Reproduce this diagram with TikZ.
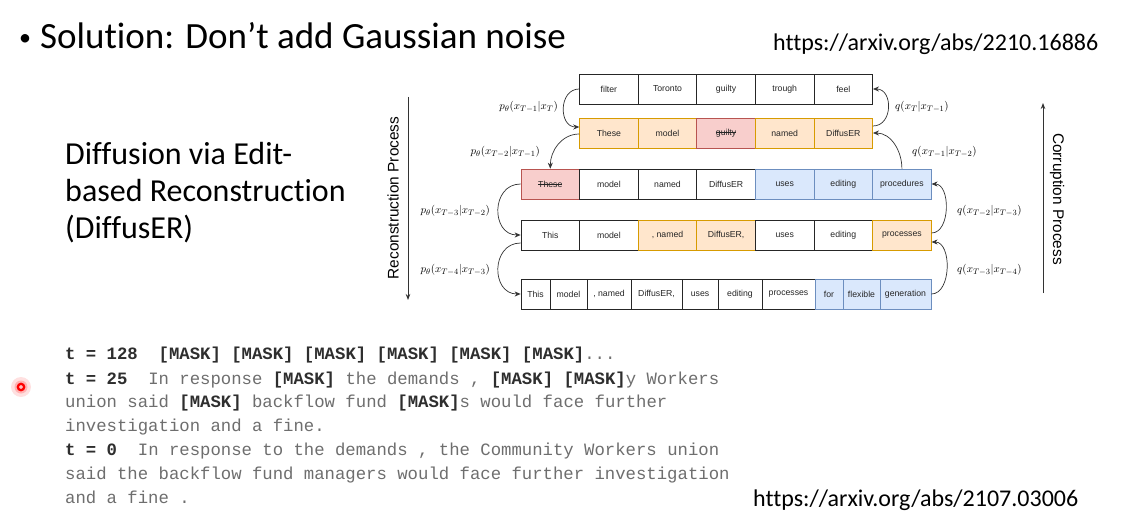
\documentclass[tikz,border=0pt]{standalone}
\usepackage{fontspec}
\usepackage{tikz}
\usetikzlibrary{arrows.meta}
\setmainfont{Carlito}[Ligatures=NoCommon]
\newfontfamily\cellfont{Liberation Sans}
\newfontfamily\codefont{Liberation Mono}
\definecolor{peach}{HTML}{FFE6CC}
\definecolor{peachline}{HTML}{D79B00}
\definecolor{rose}{HTML}{F8CECC}
\definecolor{roseline}{HTML}{B85450}
\definecolor{sky}{HTML}{DAE8FC}
\definecolor{skyline}{HTML}{6C8EBF}
\definecolor{codegray}{HTML}{6E6E6E}
\definecolor{codedark}{HTML}{2E2E2E}
\newcommand{\mk}{\textbf{\color{codedark}[MASK]}}
\newcommand{\tstep}[1]{\textbf{\color{codedark}#1}}
\newsavebox\crossbox
\newcommand{\crossout}[1]{\sbox\crossbox{#1}\rlap{\rule[0.3em]{\wd\crossbox}{0.6pt}}\usebox\crossbox}

\begin{document}
\begin{tikzpicture}[x=1pt, y=-1pt,
  cell/.style={draw=black!85, fill=white, line width=0.7pt, minimum height=30pt, inner sep=0pt, font=\cellfont\fontsize{8.7}{10}\selectfont, text=black!85},
  whitecell/.style={},
  peachy/.style={fill=peach, draw=peachline},
  rosy/.style={fill=rose, draw=roseline},
  bluey/.style={fill=sky, draw=skyline},
  flow/.style={draw=black!80, line width=0.7pt, -{Stealth[length=6pt,width=5pt]}},
  procarrow/.style={draw=black!80, line width=0.8pt, -{Stealth[length=6pt,width=4.5pt]}},
  lbl/.style={font=\fontsize{11}{13}\selectfont, inner sep=0pt},
  proclbl/.style={font=\cellfont\fontsize{15.4}{18}\selectfont, inner sep=0pt},
  codeline/.style={anchor=base west, inner sep=0pt, font=\codefont\fontsize{17.3}{20}\selectfont, text=codegray}]
  \fill[white] (0,0) rectangle (1147,513);
  \useasboundingbox (0,0) rectangle (1147,513);

  % slide texts
  \node[anchor=base west, inner sep=0pt, font=\fontsize{37}{40}\selectfont] (title) at (19,49) {\raisebox{3pt}{\fontsize{24}{24}\selectfont\textbullet}\hspace{9pt}Solution: Don’t add Gaussian noise};
  \node[anchor=base west, inner sep=0pt, font=\fontsize{24}{28}\selectfont] (urlTop) at (773,51) {https://arxiv.org/abs/2210.16886};
  \node[anchor=base west, inner sep=0pt, font=\fontsize{32}{37}\selectfont, align=left] (diffText) at (65,238) {Diffusion via Edit-\\based Reconstruction\\(DiffusER)};
  \node[anchor=base west, inner sep=0pt, font=\fontsize{24}{28}\selectfont] (urlBot) at (753,506) {https://arxiv.org/abs/2107.03006};

  % token rows
  \foreach \x/\txt/\sty [count=\i] in {608.9/filter/whitecell, 667.5/Toronto/whitecell, 726.1/guilty/whitecell, 784.7/trough/whitecell, 843.3/feel/whitecell}
    \node[cell, \sty, minimum width=58.6pt] (r1c\i) at (\x,89) {\txt};
  \foreach \x/\txt/\sty [count=\i] in {608.9/These/peachy, 667.5/model/peachy, 726.1/\crossout{guilty}/rosy, 784.7/named/peachy, 843.3/DiffusER/peachy}
    \node[cell, \sty, minimum width=58.6pt] (r2c\i) at (\x,133) {\txt};
  \foreach \x/\txt/\sty [count=\i] in {550.3/\crossout{These}/rosy, 608.9/model/whitecell, 667.5/named/whitecell, 726.1/DiffusER/whitecell, 784.7/uses/bluey, 843.3/editing/bluey, 901.9/procedures/bluey}
    \node[cell, \sty, minimum width=58.6pt] (r3c\i) at (\x,184) {\txt};
  \foreach \x/\txt/\sty [count=\i] in {550.3/This/whitecell, 608.9/model/whitecell, 667.5/{, named}/peachy, 726.1/{DiffusER,}/peachy, 784.7/uses/whitecell, 843.3/editing/whitecell, 901.9/processes/peachy}
    \node[cell, \sty, minimum width=58.6pt] (r4c\i) at (\x,235) {\txt};
  \foreach \x/\w/\txt/\sty [count=\i] in {535.5/29/This/whitecell, 568.5/37/model/whitecell, 609/44/{, named}/whitecell, 656.5/51/{DiffusER,}/whitecell, 700/36/uses/whitecell, 740/44/editing/whitecell, 788.5/53/processes/whitecell, 829/28/for/bluey, 861.5/37/flexible/bluey, 905.5/51/generation/bluey}
    \node[cell, \sty, minimum width=\w pt] (r5c\i) at (\x,294) {\txt};

  % reconstruction steps
  \draw[flow] (r1c1.west) to[out=180, in=180, looseness=1.4] ([yshift=6pt]r2c1.west);
  \draw[flow] ([yshift=-1pt]r2c1.west) to[out=180, in=90] (r3c1.north);
  \draw[flow] (r3c1.west) to[out=180, in=180, looseness=1.5] (r4c1.west);
  \draw[flow] ([yshift=-8pt]r4c1.west) to[out=180, in=180, looseness=1.5] (r5c1.west);
  \node[lbl, anchor=east] (p1) at (558,107) {$p_\theta(x_{T-1}|x_T)$};
  \node[lbl, anchor=east] (p2) at (540,152) {$p_\theta(x_{T-2}|x_{T-1})$};
  \node[lbl, anchor=east] (p3) at (490,211) {$p_\theta(x_{T-3}|x_{T-2})$};
  \node[lbl, anchor=east] (p4) at (490,270) {$p_\theta(x_{T-4}|x_{T-3})$};

  % corruption steps
  \draw[flow] ([yshift=7pt]r2c5.east) to[out=0, in=0, looseness=1.4] (r1c5.east);
  \draw[flow] (r3c7.north) to[out=90, in=0] (r2c5.east);
  \draw[flow] ([yshift=2pt]r4c7.east) to[out=0, in=0, looseness=1.0] (r3c7.east);
  \draw[flow] (r5c10.east) to[out=0, in=0, looseness=1.0] ([yshift=-7pt]r4c7.east);
  \node[lbl, anchor=west] (q1) at (895,107) {$q(x_T|x_{T-1})$};
  \node[lbl, anchor=west] (q2) at (912,152) {$q(x_{T-1}|x_{T-2})$};
  \node[lbl, anchor=west] (q3) at (957,211) {$q(x_{T-2}|x_{T-3})$};
  \node[lbl, anchor=west] (q4) at (957,270) {$q(x_{T-3}|x_{T-4})$};

  % process arrows
  \coordinate (recTop) at (408,97);
  \coordinate (recBot) at (408,300);
  \draw[procarrow] (recTop) -- (recBot);
  \node[proclbl, rotate=90] (recText) at (393,198) {Reconstruction Process};
  \coordinate (corBot) at (1043,293);
  \coordinate (corTop) at (1043,103);
  \draw[procarrow] (corBot) -- (corTop);
  \node[proclbl, rotate=-90] (corText) at (1057,199) {Corruption Process};

  % sample outputs
  \node[codeline] (line1) at (65,359) {\tstep{t = 128}\ \ \mk{} \mk{} \mk{} \mk{} \mk{} \mk{}...};
  \node[codeline] (line2) at (65,384) {\tstep{t = 25}\ \ In response \mk{} the demands , \mk{} \mk{}y Workers};
  \node[codeline] (line3) at (65,407) {union said \mk{} backflow fund \mk{}s would face further};
  \node[codeline] (line4) at (65,431) {investigation and a fine.};
  \node[codeline] (line5) at (65,455) {\tstep{t = 0}\ \ In response to the demands , the Community Workers union};
  \node[codeline] (line6) at (65,479) {said the backflow fund managers would face further investigation};
  \node[codeline] (line7) at (65,503) {and a fine .};

  % pointer dot
  \fill[red, opacity=0.12] (21,387) circle (10);
  \fill[red, opacity=0.2] (21,387) circle (6.5);
  \draw[red, line width=2.2pt, fill=red!25] (21,387) circle (3.2);
\end{tikzpicture}
\end{document}
